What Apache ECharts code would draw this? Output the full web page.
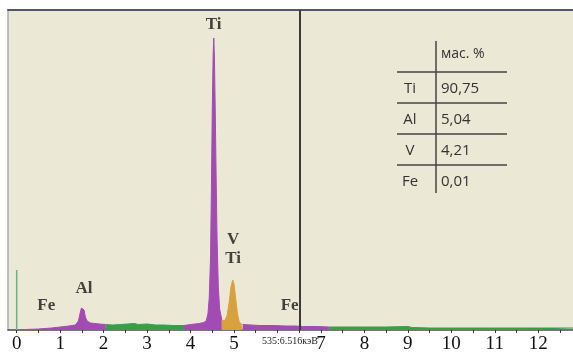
<!DOCTYPE html>
<html><head><meta charset="utf-8">
<style>html,body{margin:0;padding:0;background:#fff;}#c{width:573px;height:355px;}</style>
<script src="https://cdn.jsdelivr.net/npm/echarts@6/dist/echarts.min.js"></script>
</head><body><div id="c"></div>
<script>
// ---- data (keV, counts in arbitrary units) ----
const purpleA = [[0.2,0.5],[0.5,1],[0.8,2],[1.0,3],[1.2,4],[1.35,5],[1.42,9],[1.46,17],[1.49,22],[1.52,24],[1.55,20],[1.58,13],[1.62,9],[1.7,7],[1.8,6.5],[1.9,6],[2.05,5.5]];
const greenA = [[2.05,5.5],[2.2,5],[2.4,5.5],[2.55,6],[2.7,6.5],[2.8,5.5],[3.0,6],[3.2,5],[3.4,5],[3.6,4.5],[3.85,4.5]];
const purpleB = [[3.85,4.5],[4.0,5.5],[4.2,6.5],[4.3,7.5],[4.36,9],[4.40,16],[4.43,32],[4.46,72],[4.48,140],[4.50,220],[4.52,275],[4.535,292],[4.55,272],[4.57,215],[4.59,150],[4.61,92],[4.64,42],[4.67,21],[4.72,10]];
const orangeA = [[4.72,10],[4.78,9],[4.84,14],[4.89,28],[4.93,43],[4.97,50],[5.0,46],[5.04,31],[5.08,16],[5.12,8],[5.17,6],[5.2,5.5]];
const purpleC = [[5.2,5.5],[5.4,5],[5.6,4.5],[5.9,4.5],[6.2,4],[6.4,4],[6.6,3.5],[6.9,3.5],[7.2,3]];
const greenB = [[7.2,3],[7.6,3],[8.0,3],[8.5,3],[9.0,3.5],[9.1,2.5],[9.5,2],[10,2],[11,2],[12,2],[12.8,2]];
const zeroPeak = [[0,0],[0,60]];
const cursorKeV = 6.516;
const cursorText = '535:6.516кэВ';
const xTickLabels = [0,1,2,3,4,5,7,8,9,10,11,12];
const xTicks = [0,0.5,1,1.5,2,2.5,3,3.5,4,4.5,5,5.5,6,6.5,7,7.5,8,8.5,9,9.5,10,10.5,11,11.5,12,12.5];
const peakLabels = [['Ti',4.53,305],['V',4.98,90],['Ti',4.98,71],['Al',1.55,41],['Fe',0.68,24],['Fe',6.28,24]];
const tableHeader = 'мас. %';
const tableElements = ['Ti','Al','V','Fe'];
const tableValues = ['90,75','5,04','4,21','0,01'];

const PURPLE = '#a24cb3', GREEN = '#35a04a', ORANGE = '#d9a13c';
const SERIF = 'Liberation Serif';
function area(data, color){
  return {type:'line', data, symbol:'none', smooth:false, silent:true,
    lineStyle:{color, width:1}, areaStyle:{color, opacity:1}, z:3};
}
const chart = echarts.init(document.getElementById('c'), null, {renderer:'canvas'});
const option = {
  animation:false,
  backgroundColor:'#ffffff',
  textStyle:{fontFamily:SERIF},
  grid:{left:8, top:10, right:0, bottom:25, show:true, backgroundColor:'#ece8d6', borderWidth:0},
  xAxis:[{
    type:'value', min:-0.2, max:12.8, position:'bottom',
    axisLine:{show:true, onZero:false, lineStyle:{color:'#4a4a4a', width:1.5}},
    axisTick:{show:true, inside:false, length:3, customValues:xTicks, lineStyle:{color:'#333', width:1}},
    axisLabel:{show:true, customValues:xTickLabels, margin:5, fontFamily:SERIF, fontSize:19, fontWeight:'normal', color:'#111'},
    splitLine:{show:false}
  },{
    type:'value', min:-0.2, max:12.8, position:'top',
    axisLine:{show:true, onZero:false, lineStyle:{color:'#505868', width:2}},
    axisTick:{show:false}, axisLabel:{show:false}, splitLine:{show:false}
  }],
  yAxis:{type:'value', min:0, max:320,
    axisLine:{show:true, onZero:false, lineStyle:{color:'#a8acb0', width:1.5}},
    axisTick:{show:false}, axisLabel:{show:false}, splitLine:{show:false}},
  series:[
    area(purpleA, PURPLE), area(greenA, GREEN), area(purpleB, PURPLE),
    area(orangeA, ORANGE), area(purpleC, PURPLE), area(greenB, GREEN),
    {type:'line', data:zeroPeak, symbol:'none', lineStyle:{color:'#6fb089', width:1.5}, z:4,
     markLine:{symbol:'none', silent:true, label:{show:false},
       lineStyle:{color:'#3a3a3a', width:2, type:'solid'},
       data:[{xAxis:cursorKeV}]}},
    {type:'scatter', symbolSize:0, data:peakLabels.map(p=>({name:p[0], value:[p[1],p[2]]})), z:6,
     label:{show:true, position:'inside', formatter:'{b}', fontFamily:SERIF, fontWeight:'bold', fontSize:17, color:'#151515'}}
  ]
};
chart.setOption(option);

// cursor readout text and table (annotations)
const g = [];
const cp = chart.convertToPixel({xAxisIndex:0, yAxisIndex:0}, [cursorKeV, 0]);
g.push({type:'text', left:cp[0]-38, top:cp[1]+6, style:{text:cursorText, font:'10px "Liberation Serif"', fill:'#222'}});
const tx = 397, tw = 110, vx = 436, top0 = 41, rowH = 31;
const TF = '15px "Open Sans"';
g.push({type:'line', shape:{x1:vx, y1:top0, x2:vx, y2:193}, style:{stroke:'#444', lineWidth:1.5}});
g.push({type:'text', x:vx+5, y:54, style:{text:tableHeader, font:'14px "Open Sans"', fill:'#333', verticalAlign:'middle'}});
for(let i=0;i<tableElements.length;i++){
  const ly = 72 + i*rowH;
  g.push({type:'line', shape:{x1:tx, y1:ly, x2:tx+tw, y2:ly}, style:{stroke:'#444', lineWidth:1.5}});
  g.push({type:'text', x:410, y:ly+17, style:{text:tableElements[i], font:TF, fill:'#333', align:'center', verticalAlign:'middle'}});
  g.push({type:'text', x:vx+5, y:ly+17, style:{text:tableValues[i], font:TF, fill:'#333', align:'left', verticalAlign:'middle'}});
}
chart.setOption({graphic:g});
</script></body></html>
